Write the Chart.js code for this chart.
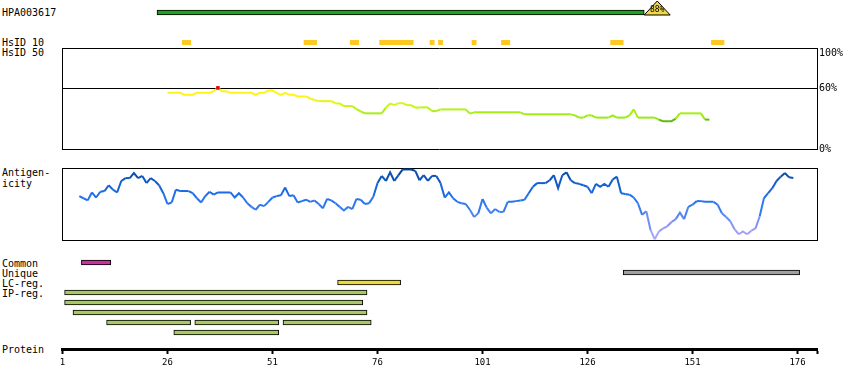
<!DOCTYPE html>
<html>
<head>
<meta charset="utf-8">
<title>HPA003617</title>
<script src="https://cdn.jsdelivr.net/npm/chart.js@4.4.1/dist/chart.umd.min.js"></script>
<style>
html,body{margin:0;padding:0;background:#fff;}
#wrap{position:relative;width:850px;height:390px;overflow:hidden;background:#fff;}
#wrap canvas{position:absolute;left:0;}
.lbl{position:absolute;left:2px;font-family:"DejaVu Sans Mono",monospace;font-size:10px;line-height:10px;color:#000;white-space:pre;}
</style>
</head>
<body>
<div id="wrap">
<div class="lbl" style="top:8px">HPA003617</div>
<div class="lbl" style="top:37.5px">HsID 10</div>
<div class="lbl" style="top:48px">HsID 50</div>
<div class="lbl" style="top:168px">Antigen-</div>
<div class="lbl" style="top:179px">icity</div>
<div class="lbl" style="top:258.5px">Common</div>
<div class="lbl" style="top:268.5px">Unique</div>
<div class="lbl" style="top:278.5px">LC-reg.</div>
<div class="lbl" style="top:288.5px">IP-reg.</div>
<div class="lbl" style="top:345px">Protein</div>
</div>
<script>
// ---------------- data ----------------
const antibodyName = 'HPA003617';
const coverRange = [24, 139];
const coverLabel = '88%';

const hsid10Blocks = [[30,31],[59,61],[70,71],[77,84],[89,89],[91,91],[99,99],[106,107],[132,134],[156,158]];

const simStart = 26;
const simValues = [
  55.6,55.6,55.6,55.6,53.6,53.6,53.6,55.6,55.6,55.6,
  55.6,57.2,60.5,57.2,57.2,55.6,55.6,55.6,55.6,55.6,
  55.6,53.6,55.6,55.6,57.8,57.8,55.6,53.6,55.6,53.6,
  53.6,52,52,52,50,48.5,47.4,47.4,47.4,47.4,
  45.1,45.1,42.5,42.5,42.5,39.5,37.3,35.3,35.3,35.3,
  35.3,35.3,41,45.1,43.4,45.4,45.4,43.4,43.4,40.9,
  41.2,41.2,41.2,37.5,37.5,39.2,39.2,39.2,39.2,39.2,
  39.2,39.2,35,36.3,36.3,36.3,36.3,36.3,36.3,36.3,
  36.3,36.3,36.3,36.3,36.3,34.3,34.3,34.3,34.3,34.3,
  34.3,34.3,34.3,34.3,34.3,34.3,34.3,33.3,31.1,31.1,
  33.3,33.3,31.1,31.1,31.1,31.1,33.3,31.1,31.1,31.1,
  33.3,39.2,31.1,31.1,31.1,31.1,31.1,29,27.5,27.5,
  27.5,30,35.3,35.3,35.3,35.3,35.3,35.3,29.1,29.1
];
const simAxisTicks = [0, 60, 100];
const simThreshold = 60;

const antStart = 5;
const antValues = [
  61,58,55,66,59,67,68,76,70,66,
  82,86,86,93,86,89,79,86,82,76,
  65,50,52,70,68,68,68,65,58,52,
  61,67,63,66,66,66,66,59,65,59,
  51,46,42,49,47,53,59,61,62,73,
  61,62,52,54,56,53,55,50,44,57,
  55,51,46,41,46,43,57,56,50,51,
  60,79,89,82,94,82,90,98,98,98,
  96,83,90,82,89,89,79,59,66,58,
  53,51,50,42,32,37,57,45,37,43,
  39,39,53,53,54,55,56,65,74,79,
  79,79,83,90,72,90,94,83,79,78,
  76,74,65,78,74,78,74,84,88,65,
  64,63,59,51,35,40,14,1,12,16,
  19,25,29,38,29,46,49,54,54,53,
  53,53,49,37,32,26,15,8,12,8,
  13,16,33,58,65,72,82,88,93,87,86
];

const featureRows = ['Common','Unique','LC-reg.','IP-reg.','IP-reg. 2','IP-reg. 3','IP-reg. 4','IP-reg. 5'];
const commonRegions = [[6,12]];
const uniqueRegions = [[135,176]];
const lcRegions = [[67,81]];
const ipRegions = [[2,73],[2,72],[4,73],[12,31],[33,52],[54,74],[28,52]];
const ipLanes = [0,1,2,3,3,3,4];

const proteinTicks = [1,26,51,76,101,126,151,176];
const X_MIN = 0.88, X_MAX = 180.64;

// ---------------- helpers ----------------
const wrap = document.getElementById('wrap');
Chart.defaults.font.family = '"DejaVu Sans Mono", monospace';
Chart.defaults.color = '#000';

function addCanvas(top, h) {
  const c = document.createElement('canvas');
  c.width = 850; c.height = h;
  c.style.top = top + 'px'; c.style.width = '850px'; c.style.height = h + 'px';
  wrap.appendChild(c);
  return c;
}
function baseOpts(pad) {
  return {
    responsive: false, animation: false, devicePixelRatio: 1, events: [],
    layout: { padding: pad },
    plugins: { legend: { display: false }, tooltip: { enabled: false } }
  };
}
const hiddenX = () => ({ type: 'linear', min: X_MIN, max: X_MAX, display: false });
// an axis that only contributes its border line (used for the box sides)
const edgeAxis = (pos) => ({
  type: 'linear', position: pos, min: 0, max: 100, display: true,
  ticks: { display: false }, grid: { display: false },
  border: { display: true, color: '#000', width: 1 },
  afterFit: s => { s.width = 0; }
});
const range = r => [r[0] - 0.5, r[1] + 0.5];

function mix(a, b, t) { return a.map((v, i) => Math.round(v + (b[i] - v) * t)); }
function ramp(stops, v) {
  if (v <= stops[0][0]) return stops[0][1];
  for (let i = 1; i < stops.length; i++) {
    if (v <= stops[i][0]) {
      const t = (v - stops[i-1][0]) / (stops[i][0] - stops[i-1][0]);
      return mix(stops[i-1][1], stops[i][1], t);
    }
  }
  return stops[stops.length - 1][1];
}
function simColor(v) {
  if (v >= simThreshold) return '#e00000';
  if (v < 30) return 'rgb(100,186,20)';
  const c = ramp([[30,[150,234,20]],[37,[168,240,20]],[45,[215,246,24]],[52,[255,244,24]]], v);
  return 'rgb(' + c.join(',') + ')';
}
function antColor(v) {
  const c = ramp([[0,[184,172,250]],[20,[140,150,246]],[45,[50,122,240]],[65,[28,108,232]],[85,[14,86,190]],[100,[0,64,140]]], v);
  return 'rgb(' + c.join(',') + ')';
}

// ---------------- coverage bar ----------------
const triPlugin = {
  id: 'coverTri',
  afterDatasetsDraw(chart) {
    const bar = chart.getDatasetMeta(0).data[0];
    const p = bar.getProps(['x', 'y', 'height'], true);
    const ctx = chart.ctx;
    const base = p.y + p.height / 2, w = 26, h = 14;
    ctx.save();
    ctx.beginPath();
    ctx.moveTo(p.x, base);
    ctx.lineTo(p.x + w / 2, base - h);
    ctx.lineTo(p.x + w, base);
    ctx.closePath();
    ctx.fillStyle = '#f0d848';
    ctx.fill();
    ctx.strokeStyle = '#000'; ctx.lineWidth = 1;
    ctx.stroke();
    ctx.fillStyle = '#000';
    ctx.font = '8px "DejaVu Sans Mono", monospace';
    ctx.textAlign = 'center'; ctx.textBaseline = 'middle';
    ctx.fillText(coverLabel, p.x + w / 2, base - 5);
    ctx.restore();
  }
};
new Chart(addCanvas(0, 25), {
  type: 'bar',
  data: { labels: [antibodyName], datasets: [{
    data: [range(coverRange)], backgroundColor: '#20a020', borderColor: '#000',
    borderWidth: 1, borderSkipped: false, barThickness: 5
  }]},
  options: Object.assign(baseOpts({ left: 62, right: 33, top: 0, bottom: 0 }), {
    indexAxis: 'y', scales: { x: hiddenX(), y: { display: false } }
  }),
  plugins: [triPlugin]
});

// ---------------- HsID 10 blocks ----------------
new Chart(addCanvas(40, 5), {
  type: 'bar',
  data: { labels: ['HsID 10'], datasets: [{
    data: hsid10Blocks.map(b => ({ x: range(b), y: 'HsID 10' })),
    backgroundColor: '#ffc820', borderWidth: 0, barThickness: 5
  }]},
  options: Object.assign(baseOpts({ left: 62, right: 33, top: 0, bottom: 0 }), {
    indexAxis: 'y', scales: { x: hiddenX(), y: { type: 'category', display: false } }
  })
});

// ---------------- similarity (HsID 50) ----------------
new Chart(addCanvas(36, 124), {
  type: 'line',
  data: { datasets: [{
    data: simValues.map((v, i) => ({ x: simStart + i, y: v })),
    borderWidth: 2, tension: 0,
    segment: { borderColor: ctx => simColor((ctx.p0.parsed.y + ctx.p1.parsed.y) / 2) },
    borderColor: '#f5f020',
    pointStyle: 'rect',
    pointRadius: ctx => (ctx.raw && ctx.raw.y >= simThreshold ? 2.5 : 0),
    pointBackgroundColor: '#e00000', pointBorderWidth: 0
  }]},
  options: Object.assign(baseOpts({ left: 62, right: 0, top: 12, bottom: 11 }), {
    scales: {
      x: hiddenX(),
      yl: edgeAxis('left'),
      y: {
        type: 'linear', position: 'right', min: 0, max: 100,
        ticks: { padding: 2, font: { size: 10, lineHeight: 1 }, color: '#000',
                 callback: v => (v === 100 ? ['', v + '%'] : v + '%') },
        grid: { color: '#000', lineWidth: 1, drawTicks: false },
        border: { display: true, color: '#000', width: 1 },
        afterBuildTicks: s => { s.ticks = simAxisTicks.map(v => ({ value: v })); },
        afterFit: s => { s.width = 33; }
      }
    }
  })
});

// ---------------- antigenicity ----------------
new Chart(addCanvas(160, 90), {
  type: 'line',
  data: { datasets: [{
    data: antValues.map((v, i) => ({ x: antStart + i, y: v })),
    borderWidth: 2, tension: 0, pointRadius: 0, borderColor: '#1f6fe8',
    segment: { borderColor: ctx => antColor((ctx.p0.parsed.y + ctx.p1.parsed.y) / 2) }
  }]},
  options: Object.assign(baseOpts({ left: 62, right: 33, top: 8, bottom: 10 }), {
    scales: {
      x: hiddenX(),
      yr: edgeAxis('right'),
      y: {
        type: 'linear', position: 'left', min: 0, max: 100,
        ticks: { display: false },
        grid: { color: '#000', lineWidth: 1, drawTicks: false },
        border: { display: true, color: '#000', width: 1 },
        afterBuildTicks: s => { s.ticks = [{ value: 0 }, { value: 100 }]; },
        afterFit: s => { s.width = 0; }
      }
    }
  })
});

// ---------------- feature tracks ----------------
const barStyle = { borderColor: '#000', borderWidth: 1, borderSkipped: false, barThickness: 5, grouped: false };
new Chart(addCanvas(250, 95), {
  type: 'bar',
  data: { labels: featureRows, datasets: [
    Object.assign({ label: 'Common', data: commonRegions.map(r => ({ x: range(r), y: featureRows[0] })), backgroundColor: '#c8329b' }, barStyle),
    Object.assign({ label: 'Unique', data: uniqueRegions.map(r => ({ x: range(r), y: featureRows[1] })), backgroundColor: '#a0a0a0' }, barStyle),
    Object.assign({ label: 'LC-reg.', data: lcRegions.map(r => ({ x: range(r), y: featureRows[2] })), backgroundColor: '#e8dc3c' }, barStyle),
    Object.assign({ label: 'IP-reg.', data: ipRegions.map((r, i) => ({ x: range(r), y: featureRows[3 + ipLanes[i]] })), backgroundColor: '#a8c864' }, barStyle)
  ]},
  options: Object.assign(baseOpts({ left: 62, right: 33, top: 7.5, bottom: 7.5 }), {
    indexAxis: 'y',
    scales: { x: hiddenX(), y: { type: 'category', display: false } }
  })
});

// ---------------- protein axis ----------------
new Chart(addCanvas(330, 50), {
  type: 'line',
  data: { datasets: [] },
  options: Object.assign(baseOpts({ left: 62, right: 33, top: 0, bottom: 0 }), {
    scales: {
      x: {
        type: 'linear', position: 'bottom', min: X_MIN, max: X_MAX,
        afterBuildTicks: s => { s.ticks = proteinTicks.map(v => ({ value: v })).concat([{ value: X_MAX }]); },
        afterFit: s => { s.height = 31; },
        ticks: { autoSkip: false, maxRotation: 0, padding: 3, font: { size: 9 }, color: '#000',
                 callback: (v, i) => (i < proteinTicks.length ? String(proteinTicks[i]) : '') },
        grid: { drawOnChartArea: false, drawTicks: true, tickLength: 5, tickWidth: 2, tickColor: '#000' },
        border: { display: true, color: '#000', width: 3 }
      },
      y: { display: false, min: 0, max: 1 }
    }
  })
});
</script>
</body>
</html>
